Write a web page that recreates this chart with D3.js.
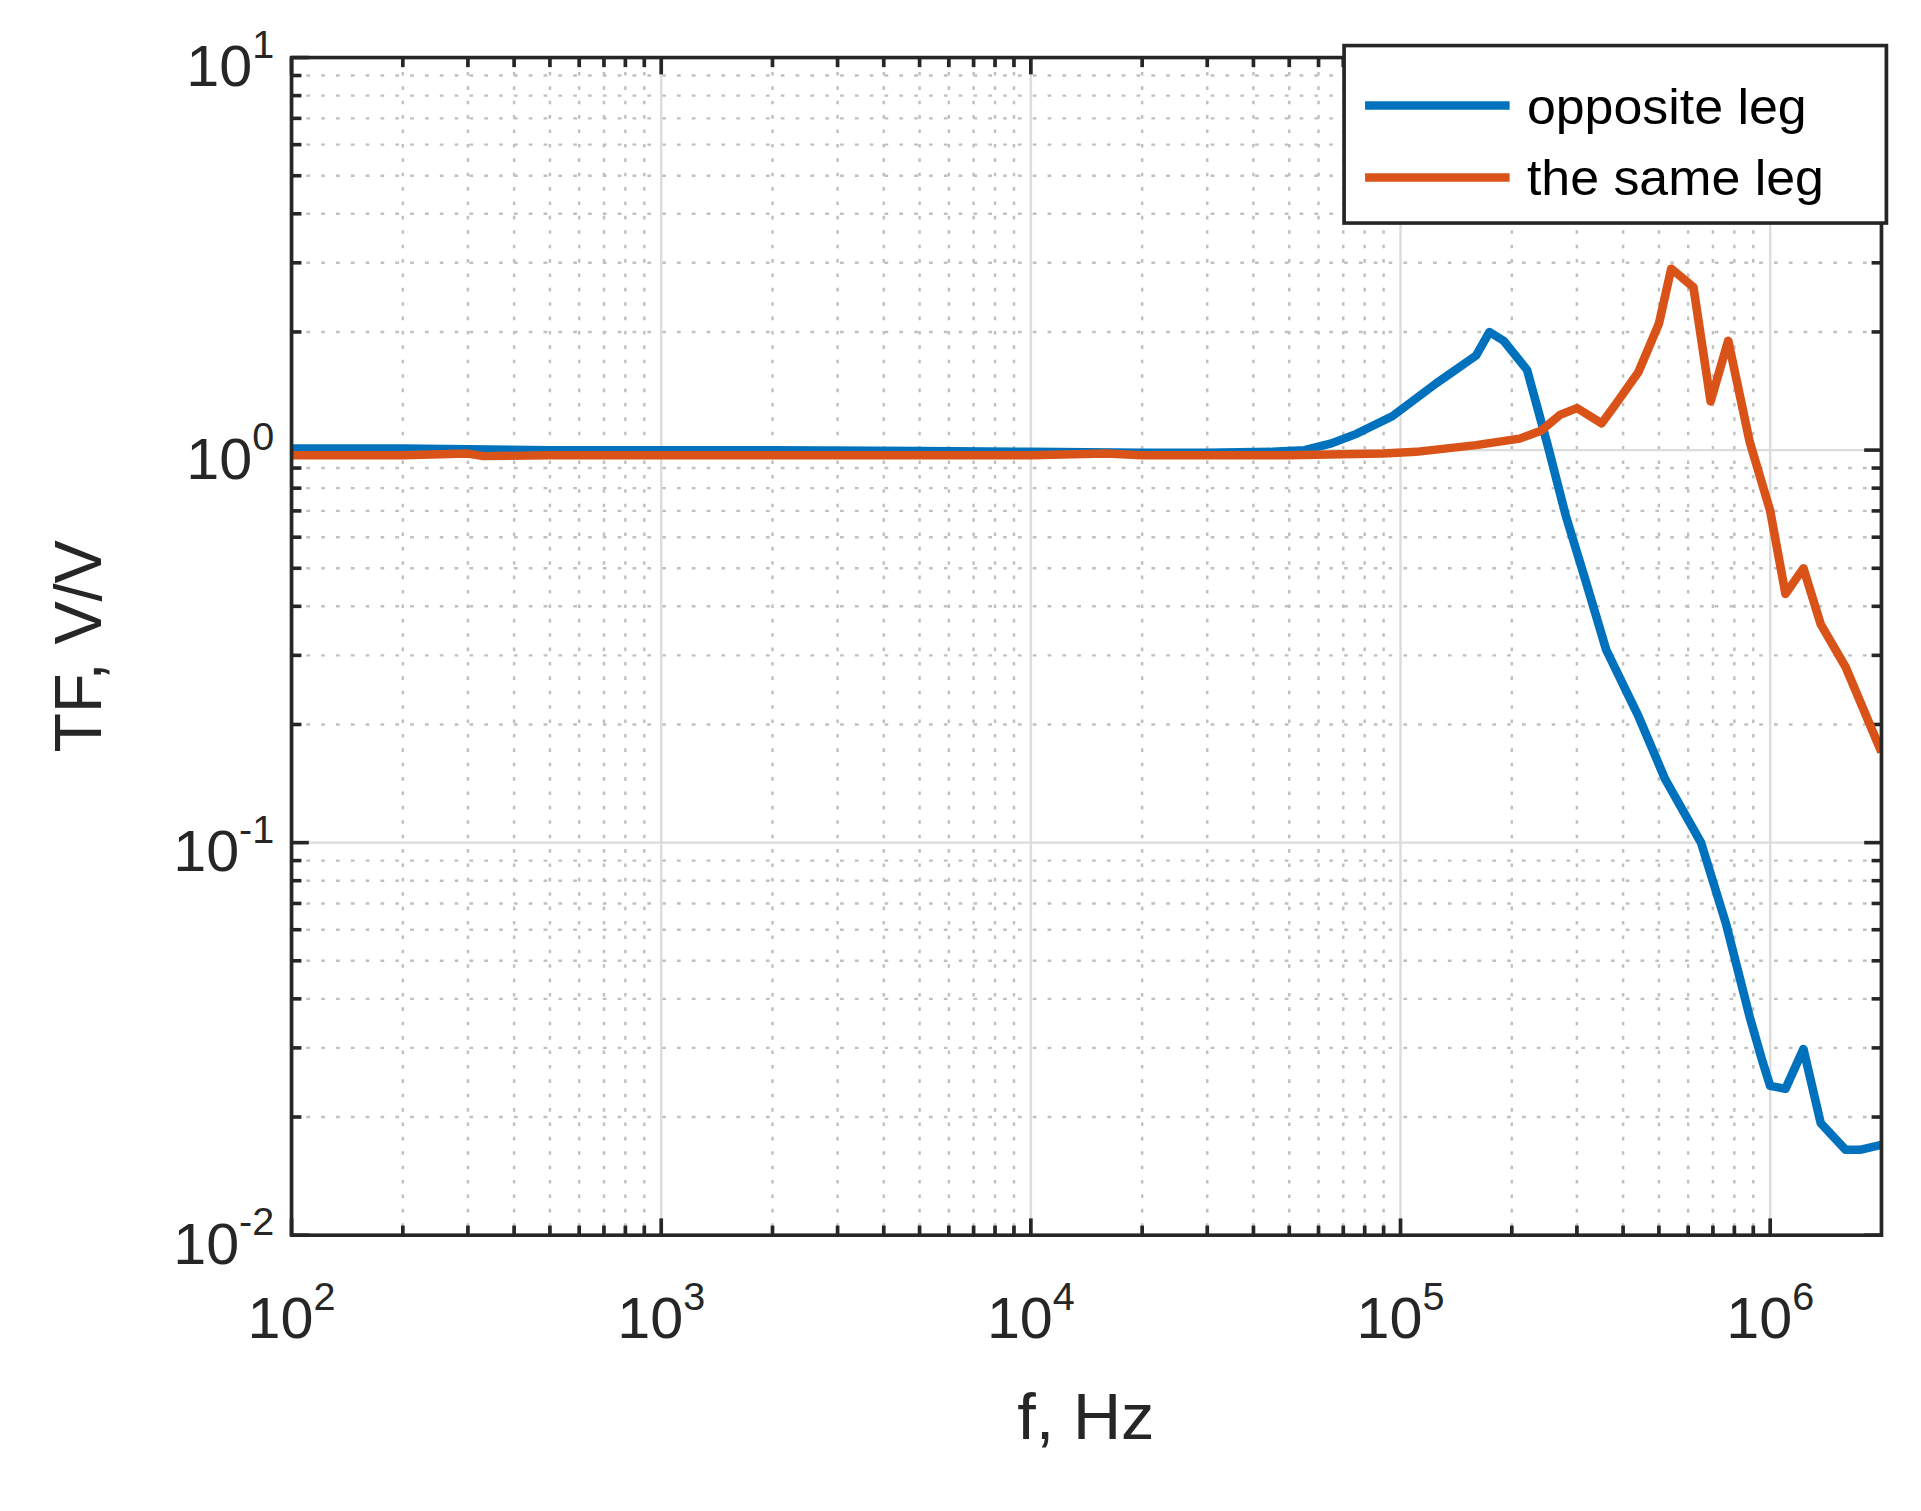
<!DOCTYPE html>
<html><head><meta charset="utf-8">
<script src="https://cdn.jsdelivr.net/npm/d3@7"></script>
<style>body{margin:0;background:#fff}svg{display:block}</style>
</head><body>
<script>
const freqBlue = [100,200,500,1000,2000,5000,10000,20000,30000,45000,55000,65000,76000,95000,125000,160000,174000,190000,220000,250000,280000,320000,360000,440000,520000,650000,760000,880000,950000,1000000,1100000,1230000,1370000,1600000,1750000,2000000];
const opposite = [1.01,1.01,1.0,1.0,1.0,0.995,0.99,0.985,0.985,0.99,1.0,1.04,1.1,1.22,1.48,1.74,2.0,1.9,1.6,1.03,0.68,0.45,0.31,0.21,0.145,0.1,0.062,0.036,0.028,0.024,0.0236,0.0298,0.0193,0.0165,0.0165,0.017];
const freqOrange = [100,200,300,330,500,1000,2000,5000,10000,16000,20000,50000,90000,110000,160000,210000,240000,270000,300000,350000,380000,440000,500000,540000,620000,690000,770000,880000,1000000,1100000,1230000,1370000,1600000,2000000];
const sameLeg = [0.97,0.97,0.98,0.965,0.97,0.97,0.97,0.97,0.97,0.98,0.97,0.97,0.98,0.99,1.03,1.07,1.12,1.23,1.28,1.17,1.3,1.58,2.1,2.9,2.6,1.33,1.9,1.05,0.7,0.43,0.5,0.36,0.28,0.17];
const seriesNames = ["opposite leg","the same leg"];
const colors = ["#0072BD","#D95319"];
const xTicks = [1e2,1e3,1e4,1e5,1e6];
const yTicks = [1e-2,1e-1,1e0,1e1];

const W=1555,H=1260, L=236,R=1523,T=48,B=1030;
const svg=d3.select("body").append("svg").attr("width",1921).attr("height",1511)
 .attr("viewBox",`0 0 ${W} ${H}`).attr("preserveAspectRatio","none")
 .style("font-family","'Liberation Sans',Arial,sans-serif");
const x=d3.scaleLog().domain([100,2e6]).range([L,R]);
const y=d3.scaleLog().domain([0.01,10]).range([B,T]);
const g=svg.append("g");
const minorX=[],minorY=[];
for(let e=2;e<=6;e++)for(let m=2;m<=9;m++){const v=m*10**e;if(v<2e6)minorX.push(v);}
for(let e=-2;e<=0;e++)for(let m=2;m<=9;m++)minorY.push(m*10**e);
g.selectAll(".mx").data(minorX).join("line").attr("x1",d=>x(d)).attr("x2",d=>x(d)).attr("y1",T).attr("y2",B)
 .attr("stroke","#c0c0c0").attr("stroke-width",2).attr("stroke-dasharray","3,9");
g.selectAll(".my").data(minorY).join("line").attr("y1",d=>y(d)).attr("y2",d=>y(d)).attr("x1",L).attr("x2",R)
 .attr("stroke","#c0c0c0").attr("stroke-width",2).attr("stroke-dasharray","3,9");
g.selectAll(".Mx").data(xTicks).join("line").attr("x1",d=>x(d)).attr("x2",d=>x(d)).attr("y1",T).attr("y2",B).attr("stroke","#dcdcdc").attr("stroke-width",2);
g.selectAll(".My").data(yTicks).join("line").attr("y1",d=>y(d)).attr("y2",d=>y(d)).attr("x1",L).attr("x2",R).attr("stroke","#dcdcdc").attr("stroke-width",2);
const tc="#262626";
[[minorX,8],[xTicks,14]].forEach(([arr,len])=>{
 g.selectAll(null).data(arr).join("line").attr("x1",d=>x(d)).attr("x2",d=>x(d)).attr("y1",B).attr("y2",B-len).attr("stroke",tc).attr("stroke-width",3);
 g.selectAll(null).data(arr).join("line").attr("x1",d=>x(d)).attr("x2",d=>x(d)).attr("y1",T).attr("y2",T+len).attr("stroke",tc).attr("stroke-width",3);
});
[[minorY,8],[yTicks,14]].forEach(([arr,len])=>{
 g.selectAll(null).data(arr).join("line").attr("y1",d=>y(d)).attr("y2",d=>y(d)).attr("x1",L).attr("x2",L+len).attr("stroke",tc).attr("stroke-width",3);
 g.selectAll(null).data(arr).join("line").attr("y1",d=>y(d)).attr("y2",d=>y(d)).attr("x1",R).attr("x2",R-len).attr("stroke",tc).attr("stroke-width",3);
});
const line=d3.line().x(d=>x(d[0])).y(d=>y(d[1]));
svg.append("clipPath").attr("id","c").append("rect").attr("x",L).attr("y",T).attr("width",R-L).attr("height",B-T);
[[freqBlue,opposite],[freqOrange,sameLeg]].forEach(([f,v],i)=>{
 svg.append("path").attr("d",line(f.map((d,j)=>[d,v[j]]))).attr("fill","none").attr("stroke",colors[i])
  .attr("stroke-width",7).attr("stroke-linejoin","round").attr("clip-path","url(#c)");
});
svg.append("rect").attr("x",L).attr("y",T).attr("width",R-L).attr("height",B-T).attr("fill","none").attr("stroke",tc).attr("stroke-width",3);
const sup=(sel,e)=>{sel.append("tspan").text("10");sel.append("tspan").text(e).attr("font-size",32).attr("dy",-24);};
xTicks.forEach(v=>{const t=svg.append("text").attr("x",x(v)).attr("y",1116).attr("text-anchor","middle").attr("font-size",48).attr("fill",tc);sup(t,Math.round(Math.log10(v)));});
yTicks.forEach(v=>{const t=svg.append("text").attr("x",222).attr("y",y(v)+24).attr("text-anchor","end").attr("font-size",48).attr("fill",tc);sup(t,Math.round(Math.log10(v)));});
svg.append("text").attr("x",879).attr("y",1200).attr("text-anchor","middle").attr("font-size",54).attr("fill",tc).text("f, Hz");
svg.append("text").attr("transform","translate(82,539) rotate(-90)").attr("text-anchor","middle").attr("font-size",54).attr("fill",tc).text("TF, V/V");
svg.append("rect").attr("x",1088).attr("y",38).attr("width",439).attr("height",148).attr("fill","#fff").attr("stroke",tc).attr("stroke-width",3);
seriesNames.forEach((n,i)=>{
 const yy=88+i*60;
 svg.append("line").attr("x1",1105).attr("x2",1222).attr("y1",yy).attr("y2",yy).attr("stroke",colors[i]).attr("stroke-width",7);
 svg.append("text").attr("x",1236).attr("y",yy+15).attr("font-size",42).attr("fill","#000").text(n);
});
</script>
</body></html>
